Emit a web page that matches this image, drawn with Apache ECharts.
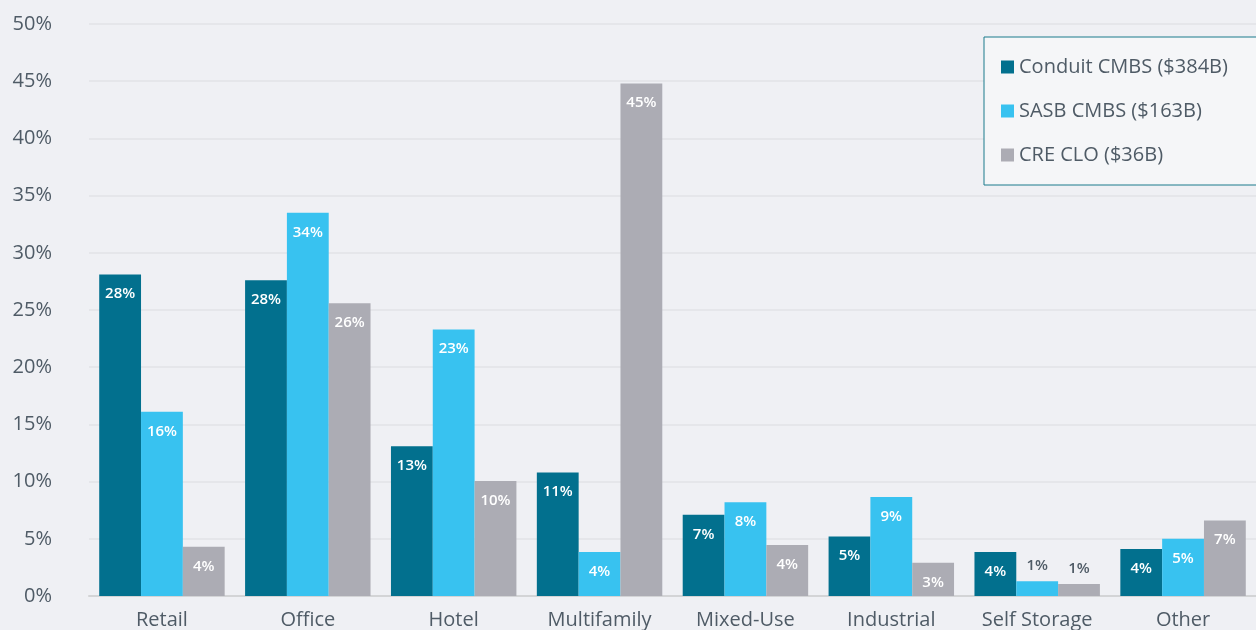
<!DOCTYPE html>
<html>
<head>
<meta charset="utf-8">
<script src="https://cdn.jsdelivr.net/npm/echarts@6/dist/echarts.min.js"></script>
<style>
html,body{margin:0;padding:0;background:#eff0f4;}
#chart{width:1256px;height:630px;}
</style>
</head>
<body>
<div id="chart"></div>
<script>
const categories = ['Retail','Office','Hotel','Multifamily','Mixed-Use','Industrial','Self Storage','Other'];
const seriesNames = ['Conduit CMBS ($384B)','SASB CMBS ($163B)','CRE CLO ($36B)'];
const conduit = [28.1, 27.6, 13.1, 10.8, 7.1, 5.2, 3.85, 4.1];
const sasb = [16.1, 33.5, 23.3, 3.85, 8.2, 8.65, 1.3, 5.0];
const creClo = [4.3, 25.6, 10.05, 44.8, 4.45, 2.9, 1.05, 6.6];
const yTicks = [0, 5, 10, 15, 20, 25, 30, 35, 40, 45, 50];
const colors = ['#02708e', '#38c2f0', '#acacb4'];
const FONT = 'Open Sans';

function mkData(arr){
  return arr.map(v => {
    if (v < 2) {
      return {value: v, label: {position: 'top', color: '#4f5b66', distance: 8}};
    }
    return v;
  });
}

const labelCfg = {
  show: true,
  position: 'insideTop',
  distance: 12,
  color: '#ffffff',
  fontFamily: FONT,
  fontSize: 15,
  fontWeight: 600,
  formatter: p => Math.round(p.value) + '%'
};

const chart = echarts.init(document.getElementById('chart'));
chart.setOption({
  backgroundColor: '#eff0f4',
  animation: false,
  textStyle: {fontFamily: FONT},
  legend: {
    orient: 'vertical',
    left: 984,
    top: 37,
    padding: [20, 30, 20, 17],
    backgroundColor: '#f5f6f8',
    borderColor: '#1a7a8c',
    borderWidth: 1,
    itemWidth: 13,
    itemHeight: 13,
    itemGap: 24,
    icon: 'rect',
    textStyle: {fontFamily: FONT, fontSize: 20, color: '#4f5b66'},
    data: seriesNames
  },
  grid: {left: 89, right: 0, top: 24, bottom: 34, containLabel: false},
  xAxis: {
    type: 'category',
    data: categories,
    axisTick: {show: false},
    axisLine: {lineStyle: {color: '#d3d4d6', width: 2}},
    axisLabel: {fontFamily: FONT, fontSize: 20, color: '#4f5b66', margin: 14}
  },
  yAxis: {
    type: 'value',
    min: yTicks[0],
    max: yTicks[yTicks.length-1],
    interval: 5,
    axisLine: {show: false},
    axisTick: {show: false},
    splitLine: {lineStyle: {color: '#e2e3e7', width: 1.5}},
    axisLabel: {fontFamily: FONT, fontSize: 20, color: '#4f5b66', margin: 37, formatter: v => v + '%'}
  },
  series: [
    {name: seriesNames[0], type: 'bar', data: mkData(conduit), itemStyle: {color: colors[0]}, barGap: '0%', barCategoryGap: '14%', label: labelCfg},
    {name: seriesNames[1], type: 'bar', data: mkData(sasb), itemStyle: {color: colors[1]}, barGap: '0%', barCategoryGap: '14%', label: labelCfg},
    {name: seriesNames[2], type: 'bar', data: mkData(creClo), itemStyle: {color: colors[2]}, barGap: '0%', barCategoryGap: '14%', label: labelCfg}
  ]
});
</script>
</body>
</html>
